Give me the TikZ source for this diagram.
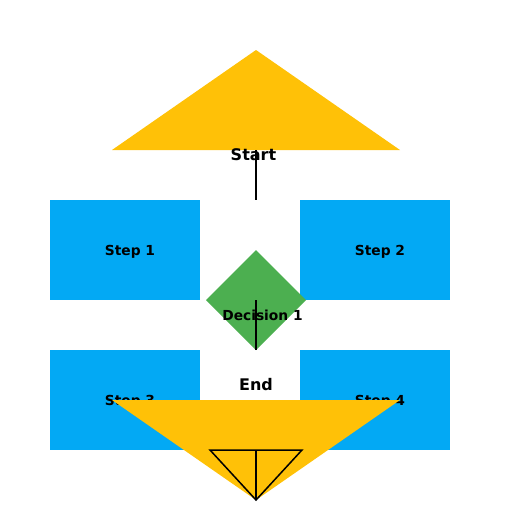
\documentclass[tikz,border=0pt]{standalone}
\usepackage{fontspec}
\setmainfont{DejaVu Sans}
\usetikzlibrary{positioning,shapes.geometric}

\definecolor{termcol}{HTML}{FFC107}
\definecolor{stepcol}{HTML}{03A9F4}
\definecolor{deccol}{HTML}{4CAF50}

\tikzset{
    stepbox/.style={rectangle,fill=stepcol,minimum width=150pt,minimum height=100pt,inner sep=0pt,outer sep=0pt},
    decbox/.style={diamond,fill=deccol,minimum width=100pt,minimum height=100pt,aspect=1,inner sep=0pt,outer sep=0pt},
    steptext/.style={font=\fontsize{13.8}{16}\selectfont\bfseries,inner sep=0pt,anchor=base},
    termtext/.style={font=\fontsize{16}{18}\selectfont\bfseries,inner sep=0pt,anchor=base},
    link/.style={line width=1.5pt,black}
}

\begin{document}
\begin{tikzpicture}[x=1pt,y=-1pt]
    \useasboundingbox (0,0) rectangle (512,512);
    % start
    \fill[termcol] (112,150) -- (256,50) -- (400,150) -- cycle;
    \node[termtext] (start) at (253.5,160.5) {Start};
    % steps
    \node[stepbox] (step1) at (125,250) {};
    \node[stepbox] (step2) [right=100pt of step1] {};
    \node[stepbox] (step3) [below=50pt of step1] {};
    \node[stepbox] (step4) [below=50pt of step2] {};
    \node[steptext] (step1text) at (130,255) {Step 1};
    \node[steptext] (step2text) at (380,255) {Step 2};
    \node[steptext] (step3text) at (130,405) {Step 3};
    \node[steptext] (step4text) at (380,405) {Step 4};
    % decision
    \node[decbox] (dec) at (256,300) {};
    \node[steptext] (dectext) at (262.5,320.5) {Decision 1};
    % end
    \node[termtext] (end) at (256,390.5) {End};
    \fill[termcol] (112,400) -- (400,400) -- (256,500) -- cycle;
    \coordinate (startfoot) at (256,150);
    \coordinate (rowtop) at (256,200);
    \coordinate (endmid) at (256,450);
    \coordinate (endtip) at (256,500);
    \draw[link] (startfoot) -- (rowtop);
    \draw[link] (dec.center) -- (dec.south);
    \draw[link,line join=miter] (210,450) -- (302,450) -- (endtip) -- cycle;
    \draw[link] (endmid) -- (endtip);
\end{tikzpicture}
\end{document}
